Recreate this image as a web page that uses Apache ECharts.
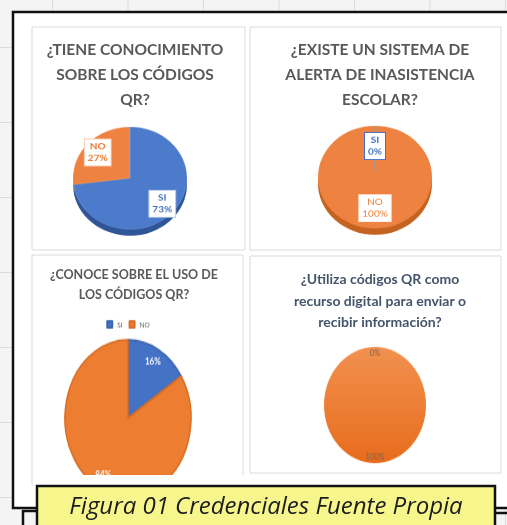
<!doctype html>
<html lang="es">
<head>
<meta charset="UTF-8">
<title>Figura 01 Credenciales</title>
<script src="https://cdn.jsdelivr.net/npm/echarts@6/dist/echarts.min.js"></script>
<style>
	html, body { margin: 0; padding: 0; }
	body {
		width: 507px; height: 525px; position: relative; overflow: hidden;
		background-color: #f4f4f4;
		background-image: linear-gradient(to right, #dcdcdc 1px, transparent 1px),
			linear-gradient(to bottom, #dcdcdc 1px, transparent 1px);
		background-size: 75.5px 75px;
		background-position: 52px 47px;
	}
	.abs { position: absolute; }
</style>
</head>
<body>
<div id="bg" class="abs" style="left:0;top:0;width:507px;height:525px;"></div>
<div id="pie1" class="abs" style="left:60px;top:118px;width:140px;height:140px;transform:scaleY(0.9);"></div>
<div id="pie2" class="abs" style="left:305px;top:117px;width:140px;height:140px;transform:scaleY(0.9);"></div>
<div class="abs" style="left:32px;top:305px;width:211px;height:170px;overflow:hidden;">
	<div id="pie3" class="abs" style="left:0;top:13px;width:192px;height:200px;transform:scaleY(1.24);"></div>
</div>
<div id="pie4" class="abs" style="left:305px;top:335px;width:140px;height:140px;transform:scaleY(1.14);"></div>
<script type="text/javascript">
	// datos de las encuestas
	var categorias = ['SI', 'NO'];
	var valores1 = [73, 27];   // ¿Tiene conocimiento sobre los códigos QR?
	var valores2 = [0, 100];   // ¿Existe un sistema de alerta de inasistencia escolar?
	var valores3 = [16, 84];   // ¿Conoce sobre el uso de los códigos QR?
	var valores4 = [0, 100];   // ¿Utiliza códigos QR como recurso digital...?
	var titulos = [
		'¿TIENE CONOCIMIENTO\nSOBRE LOS CÓDIGOS\nQR?',
		'¿EXISTE UN SISTEMA DE\nALERTA DE INASISTENCIA\nESCOLAR?',
		'¿CONOCE SOBRE EL USO DE\nLOS CÓDIGOS QR?',
		'¿Utiliza códigos QR como\nrecurso digital para enviar o\nrecibir información?'
	];
	var pie = 'Figura 01 Credenciales Fuente Propia';

	var azul = '#4d7bcc', naranja = '#ee8240';
	var azulOsc = '#2f5597', naranjaOsc = '#c4621f';
	var fuente = 'Lato, "Open Sans", sans-serif';

	function datos(vals, colores) {
		var d = [];
		for (var i = 0; i < vals.length; i++) {
			d.push({ name: categorias[i], value: vals[i], itemStyle: { color: colores[i] } });
		}
		return d;
	}

	// fondo: marco, paneles, titulos y leyenda inferior
	var bg = echarts.init(document.getElementById('bg'));
	bg.setOption({
		animation: false,
		title: [
			{ text: titulos[0], left: 130, top: 32, textAlign: 'center',
				textStyle: { fontFamily: fuente, fontSize: 15.5, fontWeight: 'bold', color: '#595959', lineHeight: 25 } },
			{ text: titulos[1], left: 375, top: 32, textAlign: 'center',
				textStyle: { fontFamily: fuente, fontSize: 15.5, fontWeight: 'bold', color: '#595959', lineHeight: 25 } },
			{ text: titulos[2], left: 129, top: 260, textAlign: 'center',
				textStyle: { fontFamily: fuente, fontSize: 12.5, fontWeight: 'bold', color: '#595959', lineHeight: 20 } },
			{ text: titulos[3], left: 375, top: 264, textAlign: 'center',
				textStyle: { fontFamily: fuente, fontSize: 14, fontWeight: 'bold', color: '#44546a', lineHeight: 21.5 } }
		],
		graphic: [
			{ type: 'rect', z: 0, shape: { x: 13, y: 12, width: 520, height: 496 },
				style: { fill: '#fff', stroke: '#111', lineWidth: 2.5 } },
			{ type: 'rect', z: 1, shape: { x: 32, y: 27, width: 213, height: 223 },
				style: { fill: '#fff', stroke: '#dadada', lineWidth: 1 } },
			{ type: 'rect', z: 1, shape: { x: 250, y: 27, width: 251, height: 223 },
				style: { fill: '#fff', stroke: '#dadada', lineWidth: 1 } },
			{ type: 'rect', z: 1, shape: { x: 32, y: 255, width: 211, height: 230 },
				style: { fill: '#fff', stroke: '#dadada', lineWidth: 1 } },
			{ type: 'rect', z: 1, shape: { x: 250, y: 256, width: 251, height: 217 },
				style: { fill: '#fff', stroke: '#dadada', lineWidth: 1 } },
			{ type: 'rect', z: 2, shape: { x: 33, y: 475, width: 212, height: 20 },
				style: { fill: '#fff' } },
			{ type: 'polyline', z: 3, shape: { points: [[23, 527], [23, 511], [40, 511]] },
				style: { stroke: '#111', lineWidth: 2.5, fill: null } },
			{ type: 'line', z: 3, shape: { x1: 494, y1: 513, x2: 510, y2: 513 },
				style: { stroke: '#111', lineWidth: 2.5 } },
			{ type: 'rect', z: 4, shape: { x: 37, y: 486, width: 458, height: 50 },
				style: { fill: '#f6f68c', stroke: '#111', lineWidth: 2.5 } },
			{ type: 'text', z: 5, x: 266, y: 507,
				style: { text: pie, fill: '#1c1c1c', align: 'center', verticalAlign: 'middle',
					font: 'italic 24px "Open Sans", sans-serif' } }
		]
	});

	// pastel 1
	var c1 = echarts.init(document.getElementById('pie1'));
	c1.setOption({
		animation: false,
		series: [
			{ type: 'pie', center: [70, 66], radius: 57, silent: true, label: { show: false },
				data: datos(valores1, [azulOsc, naranjaOsc]) },
			{ type: 'pie', center: [70, 59], radius: 57, silent: true, label: { show: false },
				itemStyle: { borderColor: 'rgba(255,255,255,0.25)', borderWidth: 0.5 },
				data: datos(valores1, [azul, naranja]) },
			{ type: 'pie', center: [70, 59], radius: [23, 57], silent: true,
				itemStyle: { color: 'transparent' },
				label: { show: true, position: 'inside', formatter: '{b}\n{d}%', fontFamily: fuente,
					fontSize: 10, fontWeight: 'bold', lineHeight: 13, backgroundColor: '#fff',
					borderWidth: 1, padding: [2, 3, 1, 3] },
				data: [
					{ name: categorias[0], value: valores1[0], itemStyle: { color: 'transparent' },
						label: { color: '#4472c4', borderColor: '#b4c7e7' } },
					{ name: categorias[1], value: valores1[1], itemStyle: { color: 'transparent' },
						label: { color: '#ed7d31', borderColor: '#f8cbad' } }
				] }
		]
	});

	// pastel 2
	var c2 = echarts.init(document.getElementById('pie2'));
	c2.setOption({
		animation: false,
		series: [
			{ type: 'pie', center: [70, 66], radius: 57, silent: true, label: { show: false },
				data: datos(valores2, [azulOsc, naranjaOsc]) },
			{ type: 'pie', center: [70, 59], radius: 57, silent: true, label: { show: false },
				data: datos(valores2, [azul, naranja]) },
			{ type: 'pie', center: [70, 59], radius: [6, 57], silent: true,
				label: { show: true, position: 'inside', formatter: '{b}\n{d}%', fontFamily: fuente,
					fontSize: 10, lineHeight: 13, backgroundColor: '#fff',
					borderWidth: 1, padding: [2, 3, 1, 3] },
				data: [
					{ name: categorias[0], value: valores2[0],
						itemStyle: { color: 'transparent', borderColor: '#9a9a9a', borderWidth: 1 },
						label: { color: '#4472c4', borderColor: '#4472c4', fontWeight: 'bold' } },
					{ name: categorias[1], value: valores2[1],
						itemStyle: { color: 'transparent', borderWidth: 0 },
						label: { color: '#ed7d31', borderColor: '#fde9dc' } }
				] }
		]
	});

	// pastel 3 (con leyenda)
	var c3 = echarts.init(document.getElementById('pie3'));
	c3.setOption({
		animation: false,
		legend: {
			data: categorias, top: 16, left: 'center', itemWidth: 5, itemHeight: 5, itemGap: 6,
			icon: 'rect', textStyle: { fontSize: 6.5, color: '#595959', fontFamily: fuente }
		},
		series: [
			{ type: 'pie', center: [96, 100], radius: 63, silent: true, label: { show: false },
				itemStyle: { borderWidth: 1.5 },
				data: [
					{ name: categorias[0], value: valores3[0], itemStyle: { color: '#4472c4', borderColor: '#3d66b0' } },
					{ name: categorias[1], value: valores3[1], itemStyle: { color: '#ed7d31', borderColor: '#d96d25' } }
				] },
			{ type: 'pie', center: [96, 100], radius: [34, 63], silent: true, legendHoverLink: false,
				itemStyle: { color: 'transparent' },
				label: { show: true, position: 'inside', formatter: '{d}%', color: '#fff',
					fontFamily: fuente, fontSize: 8, fontWeight: 'bold' },
				data: [
					{ name: categorias[0] + ' ', value: valores3[0], itemStyle: { color: 'transparent' } },
					{ name: categorias[1] + ' ', value: valores3[1], itemStyle: { color: 'transparent' } }
				] }
		]
	});

	// pastel 4
	var c4 = echarts.init(document.getElementById('pie4'));
	var degradado = new echarts.graphic.LinearGradient(0, 0, 0, 1, [
		{ offset: 0, color: '#f19150' }, { offset: 1, color: '#e86c1c' }
	]);
	c4.setOption({
		animation: false,
		series: [
			{ type: 'pie', center: [70, 70], radius: 51, silent: true, label: { show: false },
				data: datos(valores4, [azul, degradado]) },
			{ type: 'pie', center: [70, 70], radius: [34, 51], silent: true,
				itemStyle: { color: 'transparent' },
				label: { show: true, position: 'inside', formatter: '{d}%', color: '#7d6352',
					fontFamily: fuente, fontSize: 7.5 },
				data: datos(valores4, ['transparent', 'transparent']) }
		]
	});
</script>
</body>
</html>
